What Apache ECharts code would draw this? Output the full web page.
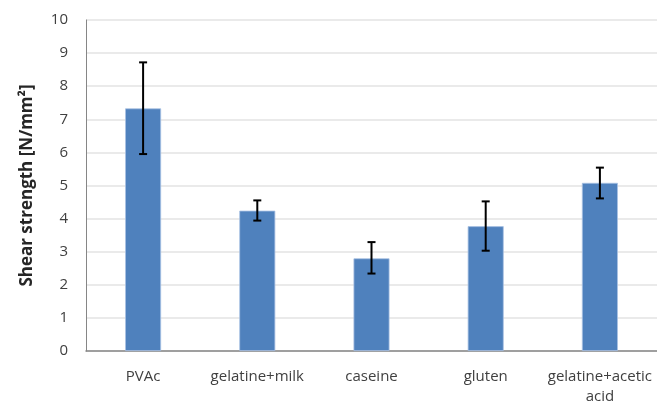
<!DOCTYPE html>
<html><head><meta charset="utf-8">
<script src="https://cdn.jsdelivr.net/npm/echarts@6/dist/echarts.min.js"></script>
<style>html,body{margin:0;padding:0;background:#fff}#c{width:657px;height:401px}</style>
</head><body><div id="c"></div>
<script>
var categories = ['PVAc', 'gelatine+milk', 'caseine', 'gluten', 'gelatine+acetic\nacid'];
var values = [7.33, 4.24, 2.80, 3.77, 5.08];
var errLow = [5.95, 3.94, 2.34, 3.03, 4.61];
var errHigh = [8.72, 4.55, 3.29, 4.52, 5.54];
var yTicks = [0, 1, 2, 3, 4, 5, 6, 7, 8, 9, 10];

var FONT = 'Open Sans';
var errData = categories.map(function (c, i) { return [i, errLow[i], errHigh[i]]; });

var chart = echarts.init(document.getElementById('c'), null, { renderer: 'canvas' });
chart.setOption({
  animation: false,
  grid: { left: 86, right: 0, top: 20, bottom: 50, containLabel: false, outerBoundsMode: 'none' },
  xAxis: {
    type: 'category', data: categories,
    axisLine: { lineStyle: { color: '#868686', width: 1.5 } },
    axisTick: { show: false },
    axisLabel: { color: '#404040', fontFamily: FONT, fontSize: 15, margin: 16, lineHeight: 20, interval: 0 }
  },
  yAxis: {
    type: 'value', min: yTicks[0], max: yTicks[yTicks.length - 1], interval: 1,
    name: 'Shear strength [N/mm²]', nameLocation: 'middle', nameGap: 50,
    nameTextStyle: { color: '#262626', fontFamily: FONT, fontSize: 17, fontWeight: 'bold' },
    axisLine: { show: true, lineStyle: { color: '#868686', width: 1 } },
    axisTick: { show: false },
    axisLabel: { color: '#404040', fontFamily: FONT, fontSize: 15, margin: 18 },
    splitLine: { lineStyle: { color: '#e3e3e3', width: 1.5 } }
  },
  series: [
    {
      type: 'bar', data: values, barWidth: 36,
      itemStyle: { color: '#4f81bd', borderColor: '#a9c2e3', borderWidth: 0.8 }
    },
    {
      type: 'custom', data: errData, z: 10,
      renderItem: function (params, api) {
        var x = api.value(0);
        var lo = api.coord([x, api.value(1)]);
        var hi = api.coord([x, api.value(2)]);
        var hw = 4;
        var st = { stroke: '#000', lineWidth: 2 };
        return {
          type: 'group',
          children: [
            { type: 'line', shape: { x1: hi[0], y1: hi[1], x2: lo[0], y2: lo[1] }, style: st },
            { type: 'line', shape: { x1: hi[0] - hw, y1: hi[1], x2: hi[0] + hw, y2: hi[1] }, style: st },
            { type: 'line', shape: { x1: lo[0] - hw, y1: lo[1], x2: lo[0] + hw, y2: lo[1] }, style: st }
          ]
        };
      }
    }
  ]
});
</script></body></html>
